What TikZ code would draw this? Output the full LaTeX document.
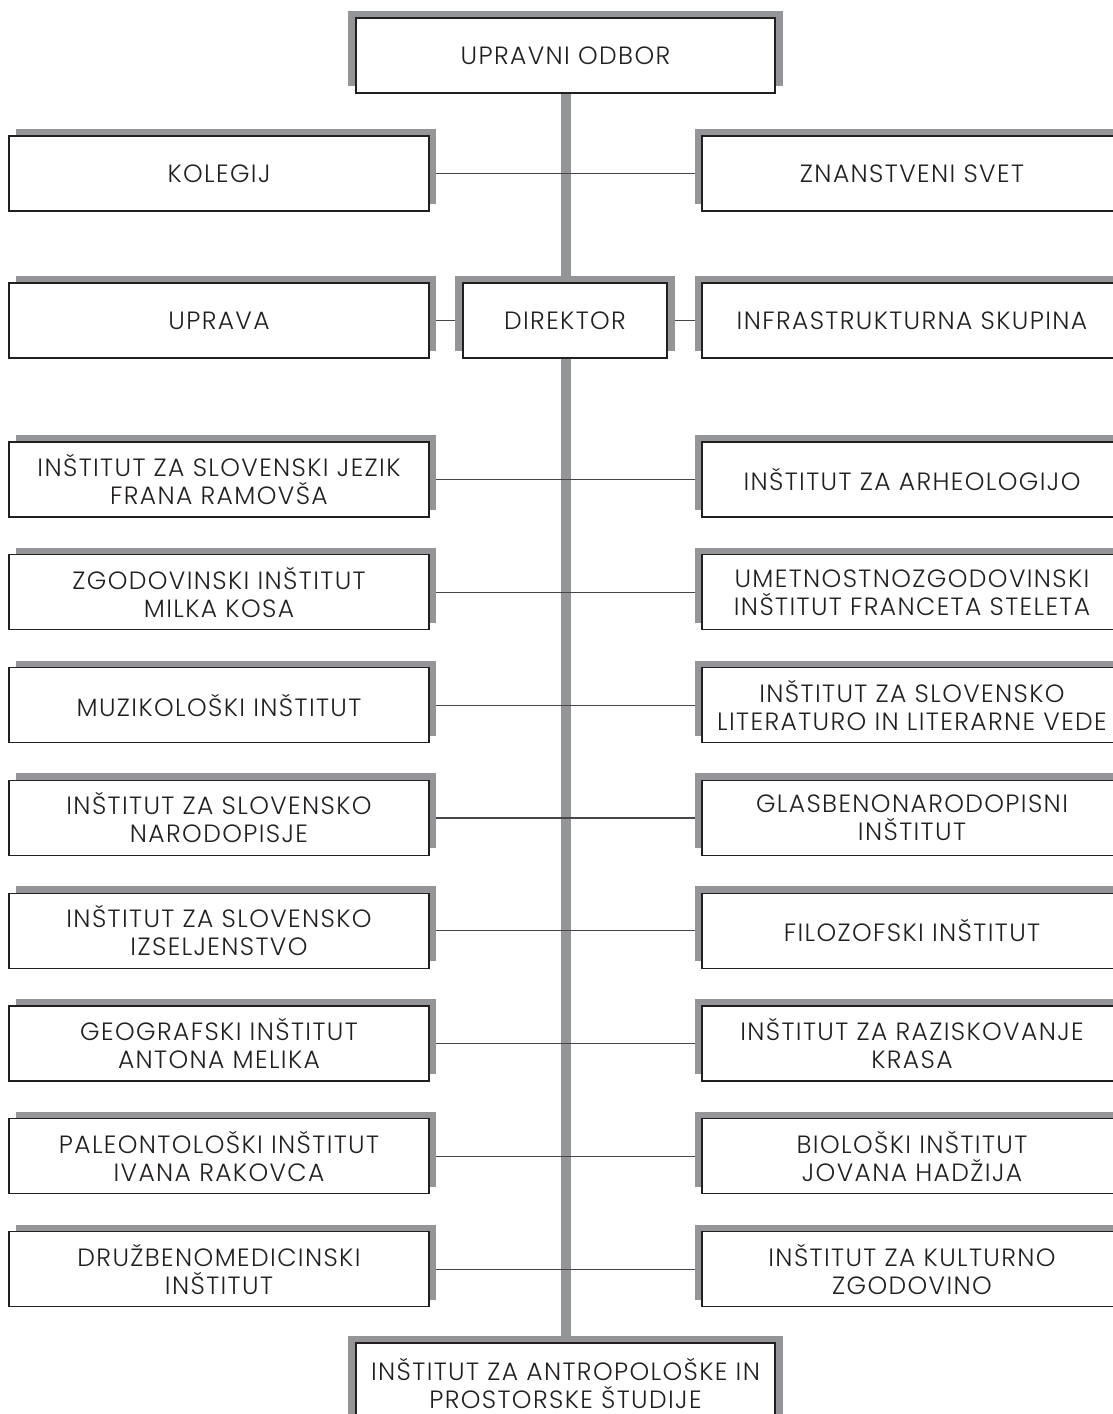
\documentclass[tikz,border=0pt]{standalone}
\usepackage{fontspec}
\setmainfont{Poppins}[UprightFont=* Light, LetterSpace=5.5]
\usetikzlibrary{shadows,backgrounds}
\definecolor{trunkgray}{RGB}{147,149,152}
\definecolor{linegray}{RGB}{70,70,72}
\definecolor{inkblack}{RGB}{35,31,32}

\begin{document}
\begin{tikzpicture}
  [x=0.5pt,y=-0.5pt,
   every node/.style={rectangle, draw=inkblack, line width=0.6pt, fill=white, text=inkblack,
     align=center, inner sep=0pt, minimum height=37.5pt, font=\fontsize{12.5}{14}\selectfont},
   wide/.style={minimum width=210pt},
   lshadow/.style={wide, general shadow={fill=trunkgray, shadow xshift=3.5pt, shadow yshift=3.5pt}},
   rshadow/.style={wide, general shadow={fill=trunkgray, shadow xshift=-3.5pt, shadow yshift=3.5pt}},
   cshadow/.style={general shadow={fill=trunkgray, shadow xshift=-4pt, shadow yshift=3.5pt},
     general shadow={fill=trunkgray, shadow xshift=4pt, shadow yshift=3.5pt}},
   trunk/.style={draw=trunkgray, line width=5pt},
   link/.style={draw=linegray, line width=0.6pt}]
  \useasboundingbox (0,0) rectangle (1113,1414);

  \node[cshadow, minimum width=209.5pt] (odbor) at (565.5,55.5) {UPRAVNI ODBOR};
  \node[lshadow] (kolegij) at (219,173.5) {KOLEGIJ};
  \node[rshadow] (svet) at (912,173.5) {ZNANSTVENI SVET};
  \node[lshadow] (uprava) at (219,320.5) {UPRAVA};
  \node[cshadow, minimum width=102pt] (direktor) at (565,320.5) {DIREKTOR};
  \node[rshadow] (infra) at (912,320.5) {INFRASTRUKTURNA SKUPINA};

  \node[lshadow] (l1) at (219,479.5) {INŠTITUT ZA SLOVENSKI JEZIK\\FRANA RAMOVŠA};
  \node[rshadow] (r1) at (912,479.5) {INŠTITUT ZA ARHEOLOGIJO};
  \node[lshadow] (l2) at (219,592.3) {ZGODOVINSKI INŠTITUT\\MILKA KOSA};
  \node[rshadow] (r2) at (912,592.3) {UMETNOSTNOZGODOVINSKI\\INŠTITUT FRANCETA STELETA};
  \node[lshadow] (l3) at (219,705.1) {MUZIKOLOŠKI INŠTITUT};
  \node[rshadow] (r3) at (912,705.1) {INŠTITUT ZA SLOVENSKO\\LITERATURO IN LITERARNE VEDE};
  \node[lshadow] (l4) at (219,817.9) {INŠTITUT ZA SLOVENSKO\\NARODOPISJE};
  \node[rshadow] (r4) at (912,817.9) {GLASBENONARODOPISNI\\INŠTITUT};
  \node[lshadow] (l5) at (219,930.7) {INŠTITUT ZA SLOVENSKO\\IZSELJENSTVO};
  \node[rshadow] (r5) at (912,930.7) {FILOZOFSKI INŠTITUT};
  \node[lshadow] (l6) at (219,1043.5) {GEOGRAFSKI INŠTITUT\\ANTONA MELIKA};
  \node[rshadow] (r6) at (912,1043.5) {INŠTITUT ZA RAZISKOVANJE\\KRASA};
  \node[lshadow] (l7) at (219,1156.3) {PALEONTOLOŠKI INŠTITUT\\IVANA RAKOVCA};
  \node[rshadow] (r7) at (912,1156.3) {BIOLOŠKI INŠTITUT\\JOVANA HADŽIJA};
  \node[lshadow] (l8) at (219,1269.1) {DRUŽBENOMEDICINSKI\\INŠTITUT};
  \node[rshadow] (r8) at (912,1269.1) {INŠTITUT ZA KULTURNO\\ZGODOVINO};

  \node[cshadow, minimum width=209.5pt, minimum height=40pt] (antropo) at (565.5,1383)
    {INŠTITUT ZA ANTROPOLOŠKE IN\\PROSTORSKE ŠTUDIJE};

  \begin{scope}[on background layer]
    \draw[trunk] (odbor) -- (antropo);
    \foreach \from/\to in {kolegij/svet,uprava/direktor,direktor/infra,l1/r1,l2/r2,l3/r3,l4/r4,l5/r5,l6/r6,l7/r7,l8/r8}
      \draw[link] (\from) -- (\to);
  \end{scope}
\end{tikzpicture}
\end{document}
